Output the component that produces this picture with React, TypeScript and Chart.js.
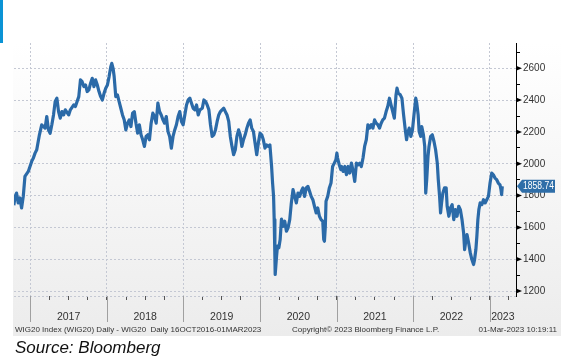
import React, { useEffect, useRef } from "react";
import { Chart, registerables } from "chart.js";

Chart.register(...registerables);

// Decimal-year dates and WIG20 index levels
const dates = [
  2016.785, 2016.802, 2016.82, 2016.842, 2016.864, 2016.886, 2016.908, 2016.93, 2016.974,
  2017.018, 2017.04, 2017.062, 2017.084, 2017.119, 2017.149, 2017.193, 2017.215, 2017.237, 2017.259,
  2017.281, 2017.303, 2017.325, 2017.347, 2017.369, 2017.391, 2017.413, 2017.435, 2017.457, 2017.501,
  2017.523, 2017.567, 2017.589, 2017.611, 2017.633, 2017.655, 2017.677, 2017.699, 2017.721, 2017.743,
  2017.765, 2017.787, 2017.809, 2017.831, 2017.853, 2017.875, 2017.897, 2017.919, 2017.941, 2017.963,
  2017.985, 2018.007, 2018.029, 2018.051, 2018.064, 2018.081, 2018.095, 2018.116, 2018.138, 2018.16,
  2018.182, 2018.204, 2018.226, 2018.248, 2018.27, 2018.292, 2018.314, 2018.336, 2018.358, 2018.38,
  2018.402, 2018.424, 2018.446, 2018.468, 2018.49, 2018.512, 2018.534, 2018.556, 2018.578, 2018.6,
  2018.622, 2018.644, 2018.666, 2018.688, 2018.71, 2018.732, 2018.754, 2018.776, 2018.798, 2018.82,
  2018.842, 2018.864, 2018.886, 2018.908, 2018.93, 2018.952, 2018.974, 2018.996, 2019.018, 2019.04,
  2019.062, 2019.084, 2019.105, 2019.127, 2019.149, 2019.171, 2019.193, 2019.215, 2019.246, 2019.267,
  2019.289, 2019.31, 2019.332, 2019.353, 2019.375, 2019.397, 2019.418, 2019.44, 2019.461, 2019.483,
  2019.504, 2019.526, 2019.547, 2019.569, 2019.591, 2019.612, 2019.634, 2019.655, 2019.677, 2019.698,
  2019.72, 2019.741, 2019.763, 2019.784, 2019.806, 2019.828, 2019.849, 2019.871, 2019.892, 2019.914,
  2019.935, 2019.957, 2019.978, 2020.0, 2020.022, 2020.043, 2020.065, 2020.086, 2020.108, 2020.129,
  2020.151, 2020.164, 2020.177, 2020.185, 2020.194, 2020.198, 2020.216, 2020.228, 2020.246, 2020.263,
  2020.28, 2020.302, 2020.323, 2020.345, 2020.366, 2020.388, 2020.409, 2020.431, 2020.453, 2020.474,
  2020.496, 2020.517, 2020.539, 2020.56, 2020.582, 2020.603, 2020.625, 2020.647, 2020.668, 2020.69,
  2020.711, 2020.733, 2020.754, 2020.776, 2020.797, 2020.819, 2020.832, 2020.841, 2020.853, 2020.862,
  2020.884, 2020.905, 2020.927, 2020.948, 2020.97, 2020.991, 2021.004, 2021.013, 2021.034, 2021.056,
  2021.065, 2021.086, 2021.108, 2021.129, 2021.151, 2021.172, 2021.194, 2021.216, 2021.237, 2021.259,
  2021.28, 2021.302, 2021.323, 2021.345, 2021.366, 2021.388, 2021.409, 2021.431, 2021.453, 2021.474,
  2021.496, 2021.517, 2021.539, 2021.56, 2021.582, 2021.603, 2021.625, 2021.647, 2021.668, 2021.69,
  2021.711, 2021.733, 2021.754, 2021.776, 2021.789, 2021.806, 2021.832, 2021.853, 2021.875, 2021.897,
  2021.914, 2021.927, 2021.948, 2021.97, 2021.991, 2022.013, 2022.034, 2022.047, 2022.065, 2022.078,
  2022.099, 2022.112, 2022.134, 2022.151, 2022.164, 2022.177, 2022.194, 2022.207, 2022.228, 2022.25,
  2022.272, 2022.293, 2022.315, 2022.328, 2022.345, 2022.358, 2022.371, 2022.388, 2022.409, 2022.431,
  2022.444, 2022.466, 2022.487, 2022.509, 2022.53, 2022.552, 2022.573, 2022.595, 2022.616, 2022.638,
  2022.659, 2022.672, 2022.69, 2022.703, 2022.724, 2022.746, 2022.767, 2022.789, 2022.802, 2022.819,
  2022.832, 2022.845, 2022.858, 2022.875, 2022.897, 2022.918, 2022.94, 2022.961, 2022.983, 2023.004,
  2023.026, 2023.047, 2023.069, 2023.091, 2023.112, 2023.134, 2023.147, 2023.155, 2023.164,
];

const wig20 = [
  1739, 1795, 1816, 1754, 1785, 1722, 1795, 1921, 1952,
  2015, 2036, 2067, 2088, 2182, 2245, 2224, 2297, 2213, 2192,
  2245, 2307, 2391, 2412, 2328, 2287, 2328, 2307, 2339, 2307,
  2339, 2370, 2360, 2391, 2422, 2527, 2516, 2485, 2495, 2454,
  2464, 2506, 2537, 2485, 2527, 2495, 2454, 2422, 2401, 2443,
  2475, 2495, 2548, 2610, 2631, 2600, 2548, 2422, 2433, 2391,
  2349, 2307, 2276, 2213, 2255, 2276, 2234, 2318, 2328, 2255,
  2192, 2245, 2182, 2151, 2109, 2172, 2182, 2151, 2255, 2318,
  2297, 2255, 2381, 2328, 2307, 2276, 2255, 2297, 2203, 2172,
  2098, 2172, 2213, 2245, 2297, 2328, 2266, 2245, 2307, 2370,
  2401, 2412, 2381, 2349, 2339, 2370, 2307, 2339, 2349, 2401,
  2391, 2370, 2339, 2245, 2172, 2182, 2213, 2266, 2307, 2328,
  2339, 2349, 2328, 2307, 2266, 2172, 2109, 2057, 2088, 2172,
  2213, 2182, 2109, 2151, 2182, 2224, 2255, 2276, 2224, 2203,
  2130, 2057, 2130, 2192, 2182, 2151, 2098, 2119, 2109, 2119,
  1983, 1879, 1795, 1649, 1419, 1304, 1419, 1482, 1472, 1524,
  1652, 1607, 1639, 1576, 1597, 1649, 1754, 1837, 1795, 1754,
  1816, 1795, 1827, 1848, 1795, 1848, 1858, 1827, 1795, 1774,
  1733, 1691, 1722, 1670, 1649, 1639, 1524, 1513, 1607, 1764,
  1795, 1848, 1879, 1983, 2004, 2025, 2067, 2036, 1994, 1963,
  1983, 1952, 1983, 1931, 1983, 1942, 2004, 1952, 1889, 2004,
  1994, 2004, 1983, 2036, 2109, 2151, 2245, 2224, 2245, 2224,
  2276, 2255, 2245, 2224, 2255, 2276, 2287, 2328, 2360, 2412,
  2370, 2328, 2287, 2433, 2475, 2443, 2433, 2412, 2307, 2213,
  2151, 2192, 2224, 2172, 2213, 2318, 2412, 2381, 2307, 2203,
  2172, 2234, 2182, 2109, 1816, 1900, 2046, 2109, 2172, 2182,
  2140, 2088, 2004, 1900, 1795, 1691, 1754, 1816, 1848, 1848,
  1733, 1670, 1722, 1743, 1649, 1712, 1670, 1733, 1712, 1649,
  1565, 1461, 1524, 1555, 1503, 1440, 1398, 1367, 1398, 1461,
  1545, 1649, 1712, 1754, 1743, 1774, 1754, 1774, 1795, 1879,
  1942, 1931, 1910, 1900, 1879, 1868, 1837, 1806, 1858.74,
];

const yearLabels = ["2017", "2018", "2019", "2020", "2021", "2022", "2023"];
const yMajorTicks = [1200, 1400, 1600, 1800, 2000, 2200, 2400, 2600];
const yMinorTicks = [1300, 1500, 1700, 1900, 2100, 2300, 2500, 2700];

const footerLeft = "WIG20 Index (WIG20) Daily - WIG20  Daily 16OCT2016-01MAR2023";
const footerMid = "Copyright\u00A9 2023 Bloomberg Finance L.P.";
const footerRight = "01-Mar-2023 10:19:11";
const sourceText = "Source: Bloomberg";

const X_MIN = 2016.787;
const X_MAX = 2023.343;
const Y_MIN = 1169;
const Y_MAX = 2759;

const LINE_COLOR = "#2b6aa8";
const GRID_COLOR = "#c4c8d3";
const FONT = '"Liberation Sans", Arial, sans-serif';

function yearLabelPos(i: number): number {
  const yr = Number(yearLabels[i]);
  return Math.min(yr + 0.5, (yr + X_MAX) / 2);
}

const near = (a: number, b: number) => Math.abs(a - b) < 1e-6;

const decor = {
  id: "decor",
  beforeDraw(chart: any) {
    const { ctx, width, height } = chart;
    ctx.save();
    ctx.fillStyle = "#ffffff";
    ctx.fillRect(0, 0, width, height);
    const g = ctx.createLinearGradient(0, 43, 0, 336);
    g.addColorStop(0, "#ffffff");
    g.addColorStop(1, "#ececec");
    ctx.fillStyle = g;
    ctx.fillRect(13, 40, 548, 296);
    ctx.fillStyle = "#0a93d5";
    ctx.fillRect(0, 0, 3, 43);
    ctx.restore();
  },
  afterDraw(chart: any) {
    const { ctx, chartArea } = chart;
    const xs = chart.scales.x;
    const ys = chart.scales.y;
    ctx.save();
    // year separators below the axis
    ctx.strokeStyle = "#a0a0a0";
    ctx.lineWidth = 1;
    for (const lbl of yearLabels) {
      const yr = Number(lbl);
      if (yr < X_MIN || yr > X_MAX) continue;
      const px = Math.round(xs.getPixelForValue(yr)) + 0.5;
      ctx.beginPath();
      ctx.moveTo(px, chartArea.bottom);
      ctx.lineTo(px, chartArea.bottom + 26);
      ctx.stroke();
    }
    // triangle markers on right axis
    ctx.fillStyle = "#000";
    for (const v of yMajorTicks) {
      const py = ys.getPixelForValue(v);
      ctx.beginPath();
      ctx.moveTo(chartArea.right, py - 2.5);
      ctx.lineTo(chartArea.right + 6, py);
      ctx.lineTo(chartArea.right, py + 2.5);
      ctx.closePath();
      ctx.fill();
    }
    // last value box
    const last = wig20[wig20.length - 1];
    const py = ys.getPixelForValue(last);
    const x0 = chartArea.right + 1;
    const x1 = 555;
    const h = 13;
    ctx.fillStyle = "#2f6ea8";
    ctx.beginPath();
    ctx.moveTo(x0, py);
    ctx.lineTo(x0 + 5, py - h / 2);
    ctx.lineTo(x1, py - h / 2);
    ctx.lineTo(x1, py + h / 2);
    ctx.lineTo(x0 + 5, py + h / 2);
    ctx.closePath();
    ctx.fill();
    ctx.fillStyle = "#ffffff";
    ctx.font = "10px " + FONT;
    ctx.textBaseline = "middle";
    ctx.textAlign = "left";
    ctx.fillText(last.toFixed(2), x0 + 6, py + 0.5, x1 - x0 - 7);
    // footer
    ctx.fillStyle = "#333";
    ctx.font = "8px " + FONT;
    ctx.textBaseline = "alphabetic";
    ctx.fillText(footerLeft, 15, 331.5, 256);
    ctx.fillText(footerMid, 292, 331.5, 156);
    ctx.textAlign = "right";
    ctx.fillText(footerRight, 557, 331.5, 93);
    // source
    ctx.textAlign = "left";
    ctx.fillStyle = "#111";
    ctx.font = "italic 17px " + FONT;
    ctx.fillText(sourceText, 15, 352.5);
    ctx.restore();
  },
};

export default function App() {
  const ref = useRef<HTMLCanvasElement | null>(null);

  useEffect(() => {
    if (!ref.current) return;
    const points = dates.map((d, i) => ({ x: d, y: wig20[i] }));
    const chart = new Chart(ref.current, {
      type: "line",
      data: {
        datasets: [
          {
            label: "WIG20",
            data: points,
            borderColor: LINE_COLOR,
            borderWidth: 3.2,
            pointRadius: 0,
            tension: 0,
            borderJoinStyle: "round",
            fill: false,
          },
        ],
      },
      options: {
        responsive: false,
        animation: false,
        events: [],
        layout: { padding: { left: 14, top: 43, right: 0, bottom: 0 } },
        plugins: { legend: { display: false }, tooltip: { enabled: false } },
        scales: {
          x: {
            type: "linear",
            position: "bottom",
            min: X_MIN,
            max: X_MAX,
            afterBuildTicks: (scale: any) => {
              const ticks: { value: number }[] = [];
              for (let q = 2017; q <= X_MAX + 1e-9; q += 0.25) ticks.push({ value: q });
              yearLabels.forEach((_, i) => {
                const p = yearLabelPos(i);
                if (!ticks.some((t) => near(t.value, p))) ticks.push({ value: p });
              });
              ticks.sort((a, b) => a.value - b.value);
              scale.ticks = ticks;
            },
            afterFit: (scale: any) => {
              scale.height = 62;
            },
            border: { display: false, dash: [2, 2] },
            grid: {
              color: (c: any) =>
                c.tick && Number.isInteger(Math.round(c.tick.value * 1e6) / 1e6) ? GRID_COLOR : "rgba(0,0,0,0)",
              tickColor: (c: any) =>
                c.tick && near((c.tick.value * 4) % 1, 0) || (c.tick && near((c.tick.value * 4) % 1, 1))
                  ? "#555"
                  : "rgba(0,0,0,0)",
              tickLength: 4,
              lineWidth: 1,
            },
            ticks: {
              autoSkip: false,
              maxRotation: 0,
              padding: 11,
              color: "#333",
              font: { family: FONT, size: 10.5 },
              callback: (value: any) => {
                const v = Number(value);
                for (let i = 0; i < yearLabels.length; i++) {
                  if (near(yearLabelPos(i), v)) return yearLabels[i];
                }
                return "";
              },
            },
          },
          y: {
            type: "linear",
            position: "right",
            min: Y_MIN,
            max: Y_MAX,
            afterBuildTicks: (scale: any) => {
              const vals = [Y_MIN, ...yMajorTicks, ...yMinorTicks].sort((a, b) => a - b);
              scale.ticks = vals.map((v) => ({ value: v }));
            },
            afterFit: (scale: any) => {
              scale.width = 49;
            },
            border: { display: true, color: "#000", width: 1, dash: [2, 2] },
            grid: {
              color: (c: any) =>
                c.tick && (yMajorTicks.includes(c.tick.value) || c.tick.value === Y_MIN)
                  ? GRID_COLOR
                  : "rgba(0,0,0,0)",
              tickColor: (c: any) =>
                c.tick && yMinorTicks.includes(c.tick.value) ? "#000" : "rgba(0,0,0,0)",
              tickLength: 4,
              lineWidth: 1,
            },
            ticks: {
              autoSkip: false,
              padding: 3,
              color: "#333",
              font: { family: FONT, size: 10 },
              callback: (value: any) => (yMajorTicks.includes(Number(value)) ? String(value) : ""),
            },
          },
        },
      },
      plugins: [decor],
    } as any);
    return () => chart.destroy();
  }, []);

  return (
    <div style={{ position: "fixed", left: 0, top: 0, width: 565, height: 358, background: "#fff" }}>
      <canvas ref={ref} width={565} height={358} style={{ display: "block" }} />
    </div>
  );
}
